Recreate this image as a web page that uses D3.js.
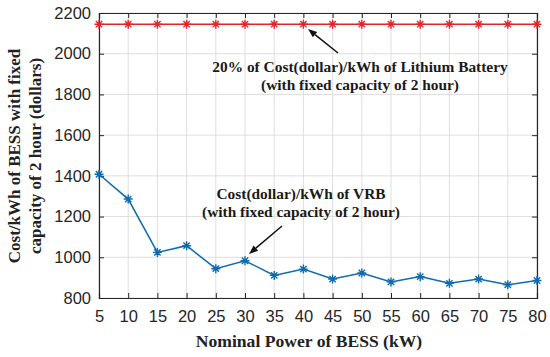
<!DOCTYPE html>
<html>
<head>
<meta charset="utf-8">
<script src="https://cdn.jsdelivr.net/npm/d3@7"></script>
<style>
  html, body { margin: 0; padding: 0; background: #fff; }
  svg { display: block; }
</style>
</head>
<body>
<svg id="chart" width="550" height="357"></svg>
<script>
const powerKW = [5, 10, 15, 20, 25, 30, 35, 40, 45, 50, 55, 60, 65, 70, 75, 80];
const vrbCost = [1408, 1286, 1024, 1057, 944, 983, 911, 942, 893, 923, 879, 905, 872, 893, 865, 886];
const lithiumCost = [2145, 2145, 2145, 2145, 2145, 2145, 2145, 2145, 2145, 2145, 2145, 2145, 2145, 2145, 2145, 2145];
const yTicks = [800, 1000, 1200, 1400, 1600, 1800, 2000, 2200];
const xTicks = [5, 10, 15, 20, 25, 30, 35, 40, 45, 50, 55, 60, 65, 70, 75, 80];
const xLabel = "Nominal Power of BESS (kW)";
const yLabelLines = ["Cost/kWh of BESS with fixed", "capacity of 2 hour (dollars)"];
const lithiumNote = ["20% of Cost(dollar)/kWh of Lithium Battery", "(with fixed capacity of 2 hour)"];
const vrbNote = ["Cost(dollar)/kWh of VRB", "(with fixed capacity of 2 hour)"];

const svg = d3.select("#chart");
const L = 99, R = 537, T = 13, B = 298;
const x = d3.scaleLinear().domain([5, 80]).range([L, R]);
const y = d3.scaleLinear().domain([800, 2200]).range([B, T]);

const axisColor = "#262626";
const gridColor = "#dedede";
const blue = "#0f6bb0";
const red = "#e3242b";
const tickFont = "Arial, 'Liberation Sans', Helvetica, sans-serif";
const serif = "'Times New Roman', 'Liberation Serif', Times, serif";

// grid
const g = svg.append("g");
g.selectAll("line.gx").data(xTicks).join("line")
  .attr("x1", d => x(d)).attr("x2", d => x(d)).attr("y1", T).attr("y2", B)
  .attr("stroke", gridColor).attr("stroke-width", 1);
g.selectAll("line.gy").data(yTicks).join("line")
  .attr("y1", d => y(d)).attr("y2", d => y(d)).attr("x1", L).attr("x2", R)
  .attr("stroke", gridColor).attr("stroke-width", 1);

// axes (ticks inward)
const xAxis = d3.axisBottom(x).tickValues(xTicks).tickSize(-5).tickPadding(12).tickFormat(d3.format("d"));
const yAxis = d3.axisLeft(y).tickValues(yTicks).tickSize(-5).tickPadding(8).tickFormat(d3.format("d"));
const xTop = d3.axisTop(x).tickValues(xTicks).tickSize(-5).tickFormat("");
const yRight = d3.axisRight(y).tickValues(yTicks).tickSize(-5).tickFormat("");

function styleAxis(sel) {
  sel.select(".domain").attr("stroke", axisColor).attr("stroke-width", 1.2);
  sel.selectAll(".tick line").attr("stroke", axisColor).attr("stroke-width", 1);
  sel.selectAll(".tick text").attr("fill", axisColor)
    .style("font-family", tickFont).style("font-size", "16.5px");
}
svg.append("g").attr("transform", `translate(0,${B})`).call(xAxis).call(styleAxis);
svg.append("g").attr("transform", `translate(${L},0)`).call(yAxis).call(styleAxis);
svg.append("g").attr("transform", `translate(0,${T})`).call(xTop).call(styleAxis);
svg.append("g").attr("transform", `translate(${R},0)`).call(yRight).call(styleAxis);

// lines
const line = d3.line().x((d, i) => x(powerKW[i])).y(d => y(d));
svg.append("path").datum(lithiumCost).attr("d", line)
  .attr("fill", "none").attr("stroke", red).attr("stroke-width", 1.5);
svg.append("path").datum(vrbCost).attr("d", line)
  .attr("fill", "none").attr("stroke", blue).attr("stroke-width", 1.5);

// asterisk markers
function star(s) {
  const a = s * 0.7071;
  return `M${-s},0L${s},0M0,${-s}L0,${s}M${-a},${-a}L${a},${a}M${-a},${a}L${a},${-a}`;
}
function markers(data, color) {
  svg.append("g").selectAll("path").data(data).join("path")
    .attr("transform", (d, i) => `translate(${x(powerKW[i])},${y(d)})`)
    .attr("d", star(4.5))
    .attr("stroke", color).attr("stroke-width", 1.4).attr("fill", "none");
}
markers(lithiumCost, red);
markers(vrbCost, blue);

// axis labels
svg.append("text").attr("x", 309).attr("y", 347)
  .attr("text-anchor", "middle")
  .style("font-family", serif).style("font-weight", "bold").style("font-size", "17.6px")
  .attr("fill", "#222").text(xLabel);

const yl = svg.append("text").attr("transform", `translate(20,156) rotate(-90)`)
  .attr("text-anchor", "middle")
  .style("font-family", serif).style("font-weight", "bold").style("font-size", "17px")
  .attr("fill", "#222");
yl.selectAll("tspan").data(yLabelLines).join("tspan")
  .attr("x", 0).attr("dy", (d, i) => i === 0 ? 0 : 21).text(d => d);

// annotations
function note(lines, cx, y0) {
  const t = svg.append("text").attr("text-anchor", "middle")
    .style("font-family", serif).style("font-weight", "bold").style("font-size", "15.4px")
    .attr("fill", "#1a1a1a");
  t.selectAll("tspan").data(lines).join("tspan")
    .attr("x", cx).attr("y", (d, i) => y0 + i * 17.5).text(d => d);
}
note(lithiumNote, 360, 72);
note(vrbNote, 301, 199);

function arrow(x1, y1, x2, y2) {
  const ang = Math.atan2(y2 - y1, x2 - x1);
  const len = 9, w = 3.5;
  const bx = x2 - len * Math.cos(ang), by = y2 - len * Math.sin(ang);
  svg.append("line").attr("x1", x1).attr("y1", y1).attr("x2", bx).attr("y2", by)
    .attr("stroke", "#111").attr("stroke-width", 1.5);
  const px = -Math.sin(ang) * w, py = Math.cos(ang) * w;
  svg.append("path")
    .attr("d", `M${x2},${y2}L${bx + px},${by + py}L${bx - px},${by - py}Z`)
    .attr("fill", "#111");
}
arrow(338, 53, 308, 29);
arrow(282, 226, 249, 254);
</script>
</body>
</html>
